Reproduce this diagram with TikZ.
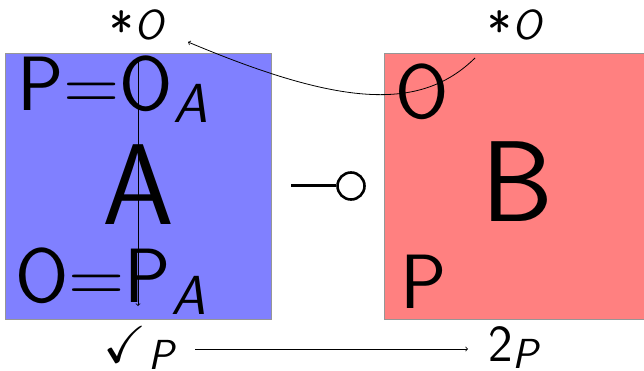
\documentclass[tikz,border=0pt]{standalone}
\usepackage{amssymb}
\definecolor{boxA}{RGB}{128,128,255}
\definecolor{boxB}{RGB}{255,128,128}
\definecolor{edge}{RGB}{150,150,150}
\newcommand{\bigfont}{\fontsize{77}{85}\selectfont}
\newcommand{\subfont}{\fontsize{55}{62}\selectfont\itshape}
\newcommand{\hugefont}{\fontsize{115}{125}\selectfont}
\newcommand{\midfont}{\fontsize{52}{60}\selectfont}
\newcommand{\smallsub}{\fontsize{42}{48}\selectfont\itshape}
\begin{document}
\begin{tikzpicture}[x=1pt,y=-1pt,
  panel/.style={draw=edge,line width=1pt,minimum width=266pt,minimum height=266pt,inner sep=0pt,anchor=north west},
  lbl/.style={inner sep=0pt,anchor=base west,font=\sffamily\bigfont},
  title/.style={inner sep=0pt,anchor=base,font=\sffamily\hugefont},
  tag/.style={inner sep=0pt,anchor=base west,font=\sffamily\midfont},
  conn/.style={line width=0.8pt,->},
  every node/.append style={text=black}]
\useasboundingbox (0,0) rectangle (644,371);
\node[panel,fill=boxA] (A) at (5,53) {};
\node[panel,fill=boxB] (B) at (384,53) {};
% labels in A
\node[lbl] (pa) at (17,111) {P=O\raisebox{-12pt}{\subfont A}};
\node[title] (ta) at (138,224) {A};
\node[lbl] (ap) at (15,302) {O=P\raisebox{-12pt}{\subfont A}};
% labels in B
\node[lbl] (bo) at (395,119) {O};
\node[title] (tb) at (517,222) {B};
\node[lbl] (bp) at (400,308) {P};
% top labels
\node[tag] (sa) at (109,50) {*\kern1pt\raisebox{10pt}{\smallsub O}};
\node[tag] (sb) at (487,50) {*\kern1pt\raisebox{10pt}{\smallsub O}};
% bottom labels
\node[tag] (ck) at (103,362) {$\checkmark$\kern2pt\raisebox{-7pt}{\smallsub P}};
\node[tag] (tw) at (488,361) {2\raisebox{-7pt}{\smallsub P}};
% connectors
\coordinate (c1) at (475,58);
\coordinate (e1) at (188,42);
\draw[conn] (c1) .. controls (420,112) and (340,106) .. (e1);
\coordinate (v1) at (138,60);
\coordinate (v2) at (138,306);
\draw[conn] (v1) -- (v2);
\coordinate (h1) at (195,349);
\coordinate (h2) at (468,349);
\draw[conn] (h1) -- (h2);
% lollipop
\coordinate (l1) at (291,186);
\node[circle,draw,line width=2.6pt,minimum size=27pt,inner sep=0pt] (lc) at (351,186) {};
\draw[line width=3pt] (l1) -- (lc.west);
\end{tikzpicture}
\end{document}
